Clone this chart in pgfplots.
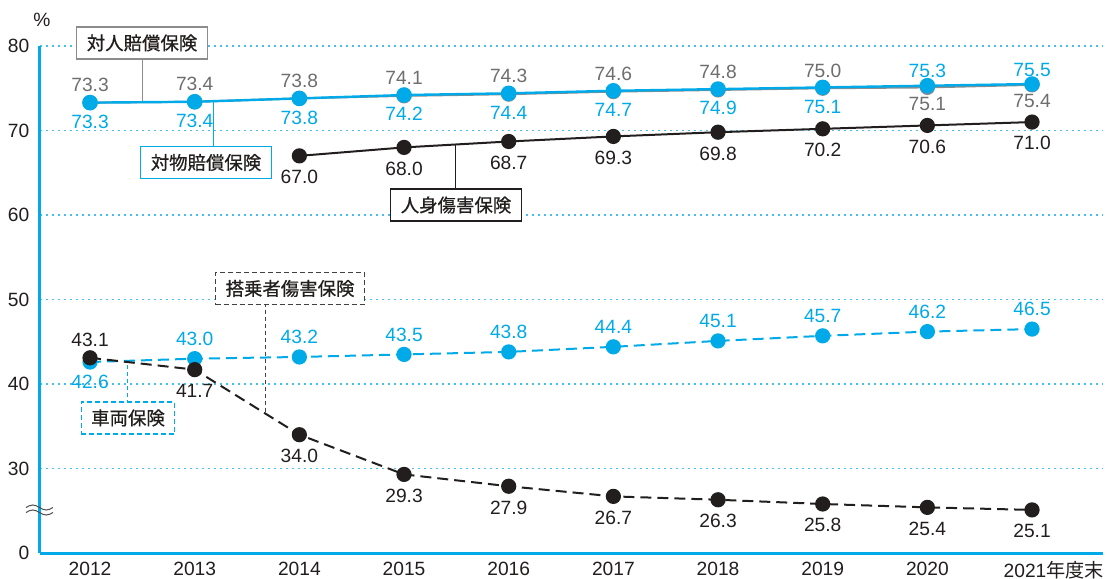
\documentclass[border=0pt]{standalone}
\usepackage{fontspec}
\setmainfont{Liberation Sans}
\newfontfamily\jp{Noto Sans CJK JP}[FakeBold=0.6]
\newfontfamily\jpt{Noto Sans CJK JP}
\usepackage{pgfplots}
\pgfplotsset{compat=1.18}
\definecolor{cblue}{RGB}{0,170,232}
\definecolor{cgrid}{RGB}{70,190,238}
\definecolor{cgray}{RGB}{140,140,140}
\definecolor{cgraytxt}{RGB}{110,110,110}
\definecolor{cblack}{RGB}{35,30,30}
\begin{document}
\begin{tikzpicture}[
  lbl/.style={font=\fontsize{9.6}{11}\selectfont, anchor=base, inner sep=0pt},
  box/.style={font=\jp\fontsize{9.2}{11}\selectfont, fill=white, inner xsep=5pt, inner ysep=0pt, minimum height=16pt, line width=0.6pt, text=cblack},
]
\begin{axis}[
  name=ax,
  width=531.5pt, height=253.5pt, scale only axis,
  xmin=-0.478, xmax=9.678, ymin=20, ymax=80,
  axis x line=bottom, axis y line=left,
  axis line style={-, cblue, line width=1.5pt},
  xtick={0,1,2,3,4,5,6,7,8,9},
  xticklabels={2012,2013,2014,2015,2016,2017,2018,2019,2020,{\hspace*{-7pt}2021\rlap{\jpt 年度末}}},
  ytick={20,30,40,50,60,70,80},
  yticklabels={0,30,40,50,60,70,80},
  major tick length=0pt,
  ymajorgrids, grid style={cgrid, line width=0.8pt, dash pattern=on 1.2pt off 1.8pt},
  tick label style={font=\fontsize{9.6}{11}\selectfont, text=cblack},
  /pgf/number format/assume math mode=true,
  yticklabel style={xshift=-1.8pt},
  xticklabel style={yshift=-0.8pt},
  clip=false,
]
% connectors
\draw[cgray, line width=0.5pt] (axis cs:0.497,80.36) -- (axis cs:0.497,73.35);
\draw[cblue, line width=0.5pt] (axis cs:1.175,66.21) -- (axis cs:1.175,73.47);
\draw[cblack, line width=0.5pt] (axis cs:3.487,61.18) -- (axis cs:3.487,68.34);
\draw[cblack!85, line width=0.5pt, dash pattern=on 2pt off 1.5pt] (axis cs:1.681,51.30) -- (axis cs:1.681,36.46);
\draw[cblue, line width=0.5pt, dash pattern=on 2pt off 1.5pt] (axis cs:0.354,35.98) -- (axis cs:0.354,42.74);

% 対人賠償保険 (gray)
\addplot[cgray, line width=1pt, mark=*, mark size=3.3pt, mark options={fill=cgray, draw=cgray}]
  coordinates {(0,73.3)(1,73.4)(2,73.8)(3,74.1)(4,74.3)(5,74.6)(6,74.8)(7,75.0)(8,75.1)(9,75.4)};
% 対物賠償保険 (blue)
\addplot[cblue, line width=1.2pt, mark=*, mark size=3.3pt, mark options={fill=cblue, draw=cblue}]
  coordinates {(0,73.3)(1,73.4)(2,73.8)(3,74.2)(4,74.4)(5,74.7)(6,74.9)(7,75.1)(8,75.3)(9,75.5)};
% 人身傷害保険
\addplot[cblack, line width=1pt, mark=*, mark size=3.3pt, mark options={fill=cblack, draw=cblack}]
  coordinates {(2,67.0)(3,68.0)(4,68.7)(5,69.3)(6,69.8)(7,70.2)(8,70.6)(9,71.0)};
% 車両保険
\addplot[cblue, line width=1pt, dash pattern=on 5.5pt off 3pt, mark=*, mark size=3.3pt, mark options={solid, fill=cblue, draw=cblue}]
  coordinates {(0,42.6)(1,43.0)(2,43.2)(3,43.5)(4,43.8)(5,44.4)(6,45.1)(7,45.7)(8,46.2)(9,46.5)};
% 搭乗者傷害保険
\addplot[cblack, line width=1pt, dash pattern=on 5.5pt off 3pt, mark=*, mark size=3.3pt, mark options={solid, fill=cblack, draw=cblack}]
  coordinates {(0,43.1)(1,41.7)(2,34.0)(3,29.3)(4,27.9)(5,26.7)(6,26.3)(7,25.8)(8,25.4)(9,25.1)};

% labels
\addplot[draw=none, mark=none, nodes near coords, point meta=explicit symbolic,
  nodes near coords style={lbl, text=cgraytxt, yshift=5.6pt}]
  coordinates {(0,73.3)[73.3](1,73.4)[73.4](2,73.8)[73.8](3,74.1)[74.1](4,74.3)[74.3](5,74.6)[74.6](6,74.8)[74.8](7,75.0)[75.0]};
\addplot[draw=none, mark=none, nodes near coords, point meta=explicit symbolic,
  nodes near coords style={lbl, text=cgraytxt, yshift=-11.5pt}]
  coordinates {(8,75.1)[75.1](9,75.4)[75.4]};
\addplot[draw=none, mark=none, nodes near coords, point meta=explicit symbolic,
  nodes near coords style={lbl, text=cblue, yshift=-12.9pt}]
  coordinates {(0,73.3)[73.3](1,73.4)[73.4](2,73.8)[73.8](3,74.2)[74.2](4,74.4)[74.4](5,74.7)[74.7](6,74.9)[74.9](7,75.1)[75.1]};
\addplot[draw=none, mark=none, nodes near coords, point meta=explicit symbolic,
  nodes near coords style={lbl, text=cblue, yshift=4pt}]
  coordinates {(8,75.3)[75.3](9,75.5)[75.5]};
\addplot[draw=none, mark=none, nodes near coords, point meta=explicit symbolic,
  nodes near coords style={lbl, text=cblack, yshift=-13.9pt}]
  coordinates {(2,67.0)[67.0](3,68.0)[68.0](4,68.7)[68.7](5,69.3)[69.3](6,69.8)[69.8](7,70.2)[70.2](8,70.6)[70.6](9,71.0)[71.0]};
\addplot[draw=none, mark=none, nodes near coords, point meta=explicit symbolic,
  nodes near coords style={lbl, text=cblue, yshift=6.6pt}]
  coordinates {(1,43.0)[43.0](2,43.2)[43.2](3,43.5)[43.5](4,43.8)[43.8](5,44.4)[44.4](6,45.1)[45.1](7,45.7)[45.7](8,46.2)[46.2](9,46.5)[46.5]};
\addplot[draw=none, mark=none, nodes near coords, point meta=explicit symbolic,
  nodes near coords style={lbl, text=cblue, yshift=-13.4pt}]
  coordinates {(0,42.6)[42.6]};
\addplot[draw=none, mark=none, nodes near coords, point meta=explicit symbolic,
  nodes near coords style={lbl, text=cblack, yshift=5.6pt}]
  coordinates {(0,43.1)[43.1]};
\addplot[draw=none, mark=none, nodes near coords, point meta=explicit symbolic,
  nodes near coords style={lbl, text=cblack, yshift=-13.9pt}]
  coordinates {(1,41.7)[41.7](2,34.0)[34.0](3,29.3)[29.3](4,27.9)[27.9](5,26.7)[26.7](6,26.3)[26.3](7,25.8)[25.8](8,25.4)[25.4](9,25.1)[25.1]};

% boxes
\node[box, draw=cgray] at (axis cs:0.497,80.36) {対人賠償保険};
\node[box, draw=cblue] at (axis cs:1.108,66.21) {対物賠償保険};
\node[box, draw=cblack] at (axis cs:3.497,61.18) {人身傷害保険};
\node[box, draw=cblack!85, dash pattern=on 2.5pt off 1.5pt] at (axis cs:1.911,51.30) {搭乗者傷害保険};
\node[box, draw=cblue, dash pattern=on 2.5pt off 1.5pt] at (axis cs:0.363,35.98) {車両保険};
\node[font=\fontsize{9.6}{11}\selectfont, text=cblack, inner sep=0pt] at (axis cs:-0.459,83.1) {\%};
\end{axis}
\draw[cblack!80, line width=0.5pt] ([shift={(-7pt,22.75pt)}]ax.south west) sin ++(3.375pt,1.25pt) cos ++(3.375pt,-1.25pt) sin ++(3.375pt,-1.25pt) cos ++(3.375pt,1.25pt);
\draw[cblack!80, line width=0.5pt] ([shift={(-7pt,20.25pt)}]ax.south west) sin ++(3.375pt,1.25pt) cos ++(3.375pt,-1.25pt) sin ++(3.375pt,-1.25pt) cos ++(3.375pt,1.25pt);
\pgfresetboundingbox
\path ([shift={(-20pt,-13pt)}]ax.south west) rectangle ++(555pt,289.5pt);
\end{tikzpicture}
\end{document}
